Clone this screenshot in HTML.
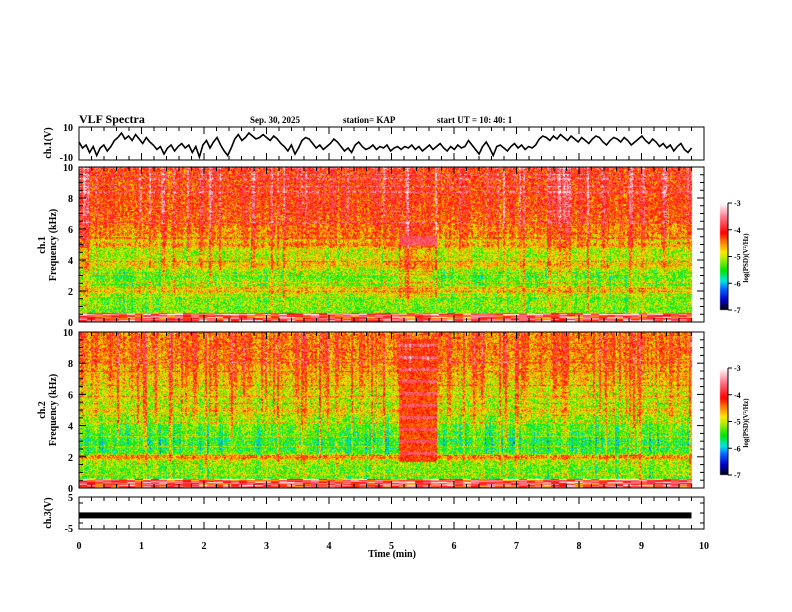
<!DOCTYPE html>
<html><head><meta charset="utf-8">
<style>
html,body{margin:0;padding:0;background:#fff;}
#wrap{position:relative;width:792px;height:612px;overflow:hidden;font-family:"Liberation Serif",serif;font-weight:bold;}
canvas,svg{position:absolute;left:0;top:0;}
</style></head>
<body>
<div id="wrap">
<canvas id="cv" width="792" height="612"></canvas>
<svg id="sv" width="792" height="612"></svg>
</div>
<script>
// ---- data ----
const timeTicks=[0,1,2,3,4,5,6,7,8,9,10];
const freqTicks=[0,2,4,6,8,10];
const cbTicks=[-3,-4,-5,-6,-7];
// ch1 waveform (V), sampled over 0..9.8 min
const ch1Wave=[0,-4,-2,-7,-3,-9,-4,-2,-6,-3,1,3,6,2,4,1,5,2,-1,3,0,-2,-5,-3,-8,-4,-2,-6,-3,-1,-4,-2,-7,-3,-10,-2,1,-4,0,3,-2,-6,-9,-4,2,5,1,3,6,4,2,3,5,3,1,4,2,-1,-3,-6,-2,-8,-4,1,3,2,-1,-4,-2,-5,-3,-1,2,0,-3,-6,-4,-7,-2,0,-3,-5,-4,-2,-5,-3,-4,-2,-6,-4,-3,-5,-3,-4,-2,-5,-3,-6,-4,-2,-5,-3,-1,-4,-6,-3,-5,-2,-4,-3,1,-2,-5,-8,-3,0,-4,-9,-3,-2,-4,-6,-3,-1,-4,-2,-5,-3,-4,-2,2,4,3,1,4,2,5,3,1,4,2,0,3,1,-1,2,4,3,0,-2,1,3,2,0,3,1,-2,0,2,4,1,-1,2,0,-3,-1,-4,-2,-6,-3,-1,-5,-7,-4];
const ch3Level=[-1.5];
// spectrogram frequency profiles (log PSD), from 0 kHz to 10 kHz in 0.25 kHz steps
const ch1Profile=[-4.0,-4.2,-5.1,-5.2,-5.2,-5.1,-5.2,-5.3,-4.5,-5.2,-5.2,-5.1,-5.3,-5.2,-4.8,-4.6,-4.8,-4.9,-4.9,-4.8,-4.3,-4.6,-4.5,-4.2,-4.3,-4.2,-4.15,-4.1,-4.05,-4.05,-4.05,-4.0,-4.0,-4.0,-4.0,-4.0,-4.0,-4.0,-4.0,-4.0,-4.0];
const ch2Profile=[-4.2,-4.6,-5.2,-5.3,-5.2,-5.2,-5.1,-5.1,-4.3,-5.3,-5.4,-5.45,-5.45,-5.4,-5.3,-5.2,-5.2,-5.1,-5.0,-4.9,-4.6,-4.9,-4.9,-4.8,-4.8,-4.75,-4.65,-4.6,-4.5,-4.5,-4.45,-4.4,-4.35,-4.3,-4.3,-4.25,-4.25,-4.25,-4.25,-4.25,-4.25];
// burst interval (min)
const burstStart=[5.12];
const burstEnd=[5.72];
const dataEnd=[9.8];
// ---- geometry ----
const X0=79,X1=704;
const xs=t=>X0+(t/10)*(X1-X0);
const P1={top:127,bot:160},S1={top:167,bot:322},S2={top:332,bot:488},P3={top:497,bot:529};
const fy=(P,f)=>P.bot-(f/10)*(P.bot-P.top);
const cv=document.getElementById('cv'),ctx=cv.getContext('2d');
function cmap(v){
 const st=[[-7,0,0,0],[-6.6,0,0,200],[-6.2,0,100,255],[-5.9,0,230,230],[-5.5,0,230,0],[-5.0,200,240,0],[-4.8,255,230,0],[-4.4,255,110,0],[-4.1,255,0,0],[-3.5,255,120,140],[-3,255,255,255]];
 if(v<=st[0][0])return st[0].slice(1);
 for(let i=1;i<st.length;i++){if(v<=st[i][0]){const a=st[i-1],b=st[i],u=(v-a[0])/(b[0]-a[0]);return [a[1]+u*(b[1]-a[1]),a[2]+u*(b[2]-a[2]),a[3]+u*(b[3]-a[3])];}}
 return [255,255,255];
}
function h(a,b){let n=(a*374761393+b*668265263)|0;n=(n^(n>>>13))*1274126177|0;return ((n^(n>>>16))>>>0)/4294967296;}
function drawSpec(P,prof,seed){
 const xe=Math.round(xs(dataEnd[0])),w=xe-X0,H=P.bot-P.top;
 const img=ctx.createImageData(w,H);
 const colAmp=[],colLen=[];
 for(let x=0;x<w;x++){const r=h(x>>1,seed);colAmp.push(r>0.7?(r-0.7)*2.0:-(0.7-r)*0.6);colLen.push(h(x>>1,seed+5));}
 const bx0=xs(burstStart[0])-X0,bx1=xs(burstEnd[0])-X0;
 for(let y=0;y<H;y++){
  const f=(H-y)/H*10,fi=Math.min(prof.length-1,f/0.25),i0=Math.floor(fi),i1=Math.min(prof.length-1,i0+1),u=fi-i0;
  let base=prof[i0]*(1-u)+prof[i1]*u;
  const line=h(y,seed+7)>0.88?0.4:0;
  for(let x=0;x<w;x++){
   const reach=f/10>colLen[x]*0.7?1:0.3;
   let v=base+line+(h(x,y*31+seed)-0.5)*1.0+colAmp[x]*reach;
   if(x>=bx0&&x<bx1){
    if(seed===1){ if(f>5&&f<5.6)v=-3.7+(h(x,y)-0.5)*0.4; else if(f>1.5&&f<6.5)v+=0.3;}
    else{ if(f>1.7&&f<9.6){v=Math.max(v,-4.3)+((y%12)<3?0.6:0)+(h(x,y)-0.5)*0.5;} }
   }
   if(f<0.6) v=-4.0+(h(x>>3,y)-0.5)*1.4+(y%3===0?0.6:0);
   const c=cmap(v),k=(y*w+x)*4;
   img.data[k]=c[0];img.data[k+1]=c[1];img.data[k+2]=c[2];img.data[k+3]=255;
  }
 }
 ctx.putImageData(img,X0,P.top);
}
drawSpec(S1,ch1Profile,1);
drawSpec(S2,ch2Profile,2);
// colorbars
function cbar(top){for(let y=0;y<107;y++){const c=cmap(-3-4*y/107);ctx.fillStyle=`rgb(${c[0]|0},${c[1]|0},${c[2]|0})`;ctx.fillRect(720,top+y,8,1);}}
cbar(203);cbar(368);
// ---- svg overlay ----
const NS='http://www.w3.org/2000/svg',sv=document.getElementById('sv');
function el(t,a,txt){const e=document.createElementNS(NS,t);for(const k in a)e.setAttribute(k,a[k]);if(txt!==undefined)e.textContent=txt;sv.appendChild(e);return e;}
function txt(x,y,s,size,anchor,rot){const e=el('text',{x:x,y:y,'font-size':size,'text-anchor':anchor||'start','font-family':'Liberation Serif, serif','font-weight':'bold'},s);if(rot)e.setAttribute('transform',`rotate(-90 ${x} ${y})`);return e;}
function frame(P,name){const r=el('rect',{x:X0,y:P.top,width:X1-X0,height:P.bot-P.top,fill:'none',stroke:'#000','stroke-width':1});
 for(let t=0;t<=10.001;t+=0.2){const x=xs(t),L=Math.abs(t-Math.round(t))<0.01?7:4;el('line',{x1:x,x2:x,y1:P.top,y2:P.top+L,stroke:'#000'});el('line',{x1:x,x2:x,y1:P.bot,y2:P.bot-L,stroke:'#000'});}}
// waveform
let d='';ch1Wave.forEach((v,i)=>{const x=xs(i/(ch1Wave.length-1)*dataEnd[0]),y=142-v*1.5;d+=(i?'L':'M')+x.toFixed(1)+' '+y.toFixed(1);});
const wv=el('path',{d:d,fill:'none',stroke:'#000','stroke-width':1.6});


const c3=el('rect',{x:X0,y:(513-ch3Level[0]*1.6)-3,width:xs(dataEnd[0])-X0,height:6,fill:'#000'});


frame(P1,'ch1-panel');frame(S1,'ch1-spectrogram');frame(S2,'ch2-spectrogram');frame(P3,'ch3-panel');
// freq ticks
[S1,S2].forEach(P=>{for(let f=0;f<=10;f+=0.5){const y=fy(P,f),L=f%2===0?7:4;el('line',{x1:X0,x2:X0+L,y1:y,y2:y,stroke:'#000'});el('line',{x1:X1,x2:X1-L,y1:y,y2:y,stroke:'#000'});}
 freqTicks.forEach(f=>txt(73,fy(P,f)+4,String(f),10,'end'));});
txt(73,131,'10',10,'end');txt(73,161,'-10',10,'end');
txt(73,501,'5',10,'end');txt(73,532,'-5',10,'end');
[503,513,523].forEach(y=>{el('line',{x1:X0,x2:X0+4,y1:y,y2:y,stroke:'#000'});el('line',{x1:X1,x2:X1-4,y1:y,y2:y,stroke:'#000'});});
timeTicks.forEach(t=>txt(xs(t),549,String(t),10,'middle'));
txt(392,557,'Time  (min)',10,'middle');
txt(79,123,'VLF Spectra',12);
txt(250,123,'Sep. 30, 2025',9);txt(343,123,'station= KAP',9);txt(437,123,'start  UT  =   10: 40: 1',9);
txt(51,143,'ch.1(V)',10,'middle',true);
txt(45,245,'ch.1',10,'middle',true);txt(56,245,'Frequency  (kHz)',10,'middle',true);
txt(45,410,'ch.2',10,'middle',true);txt(56,410,'Frequency  (kHz)',10,'middle',true);
txt(51,513,'ch.3(V)',10,'middle',true);
[203,368].forEach(top=>{el('line',{x1:728,x2:728,y1:top,y2:top+107,stroke:'#000'});
 cbTicks.forEach((v,i)=>{const y=top+i*107/4;el('line',{x1:728,x2:732,y1:y,y2:y,stroke:'#000'});txt(734,y+3,String(v),8);});
 txt(748,top+55,'log(PSD)(V²/Hz)',7,'middle',true);});
</script>
</body></html>
